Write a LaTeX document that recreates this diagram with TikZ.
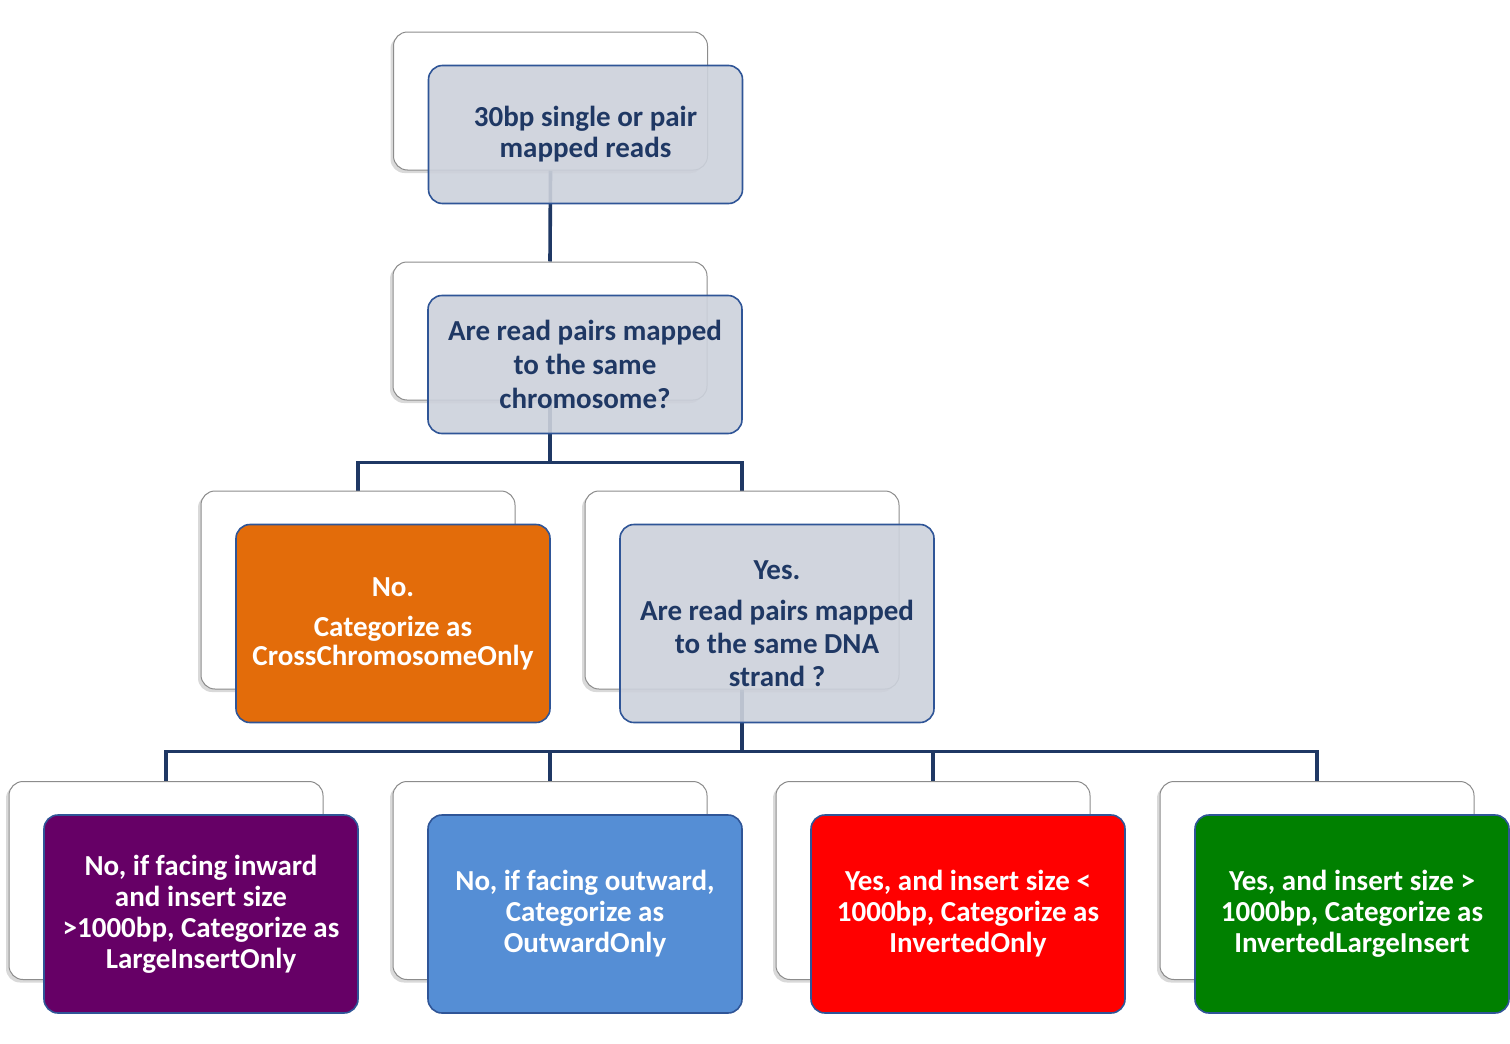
\documentclass[tikz,border=0pt]{standalone}
\usepackage{fontspec}
\setmainfont{Carlito}
\usepackage{tikz}
\usetikzlibrary{shapes,shadows,backgrounds}

\definecolor{navy}{RGB}{31,56,100}
\definecolor{frame}{RGB}{47,85,151}
\definecolor{mist}{RGB}{204,209,219}
\definecolor{rust}{RGB}{227,108,10}
\definecolor{plum}{RGB}{102,0,102}
\definecolor{sky}{RGB}{85,142,213}
\definecolor{leaf}{RGB}{0,128,0}

\begin{document}
\begin{tikzpicture}[x=0.5pt,y=-0.5pt,font=\bfseries\fontsize{14.5}{15.5}\selectfont]
\tikzstyle{back} = [rectangle, draw=black!45, line width=0.5pt, fill=white, rounded corners=7pt, minimum width=157pt, minimum height=99pt, drop shadow={shadow xshift=-1.5pt, shadow yshift=-1.5pt, opacity=0.3}]
\tikzstyle{front} = [rectangle, draw=frame, line width=0.8pt, rounded corners=7pt, minimum width=157pt, minimum height=99pt, align=center, text=white, xshift=17.5pt, yshift=-16.75pt]
\tikzstyle{ask} = [fill=mist, fill opacity=0.9, text opacity=1, text=navy]
\tikzstyle{low} = [minimum height=69pt]
\tikzstyle{loose} = [font=\bfseries\fontsize{14.5}{17.2}\selectfont]
\tikzstyle{tight} = [font=\bfseries\fontsize{14.5}{14.5}\selectfont]
\tikzstyle{conn} = [line width=1.8pt, draw=navy]
\useasboundingbox (0,0) rectangle (1510,1044);
% back boxes
\node[back,low] (READSb) at (550.5,101){};
\node[back,low] (CHROMb) at (550,331){};
\node[back] (CROSSb) at (358,590){};
\node[back] (STRANDb) at (742,590){};
\node[back] (LARGEb) at (166,880.5){};
\node[back] (OUTb) at (550,880.5){};
\node[back] (INVb) at (933,880.5){};
\node[back] (INVLb) at (1317,880.5){};
% front boxes
\node[front,low,ask] (READS) at (READSb){30bp single or pair\\ mapped reads};
\node[front,low,ask,loose] (CHROM) at (CHROMb){Are read pairs mapped\\ to the same\\ chromosome?};
\node[front,tight,fill=rust] (CROSS) at (CROSSb){No.\\[5.5pt] Categorize as\\ CrossChromosomeOnly};
\node[front,ask,font=\bfseries\fontsize{14.5}{16.5}\selectfont] (STRAND) at (STRANDb){Yes.\\[4pt] Are read pairs mapped\\ to the same DNA\\ strand ?};
\node[front,fill=plum] (LARGE) at (LARGEb){No, if facing inward\\ and insert size\\ \textgreater1000bp, Categorize as\\ LargeInsertOnly};
\node[front,fill=sky] (OUT) at (OUTb){No, if facing outward,\\ Categorize as\\ OutwardOnly};
\node[front,fill=red] (INV) at (INVb){Yes, and insert size \textless\\ 1000bp, Categorize as\\ InvertedOnly};
\node[front,fill=leaf] (INVL) at (INVLb){Yes, and insert size \textgreater\\ 1000bp, Categorize as\\ InvertedLargeInsert};
% connectors
\begin{pgfonlayer}{background}
\draw[conn] (READSb.south) -- (CHROMb.north);
\draw[conn] (CHROMb.south) -- ++(0,62) -| (CROSSb.north);
\draw[conn] (CHROMb.south) -- ++(0,62) -| (STRANDb.north);
\draw[conn] (STRANDb.south) -- ++(0,62) -| (LARGEb.north);
\draw[conn] (STRANDb.south) -- ++(0,62) -| (OUTb.north);
\draw[conn] (STRANDb.south) -- ++(0,62) -| (INVb.north);
\draw[conn] (STRANDb.south) -- ++(0,62) -| (INVLb.north);
\end{pgfonlayer}
\end{tikzpicture}
\end{document}
